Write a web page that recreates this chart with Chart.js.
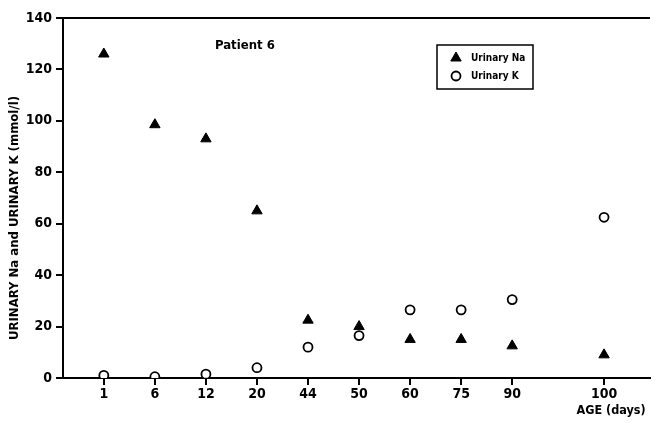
<!DOCTYPE html>
<html>
<head>
<meta charset="utf-8">
<script src="https://cdn.jsdelivr.net/npm/chart.js@4/dist/chart.umd.min.js"></script>
<style>
  html, body { margin: 0; padding: 0; background: #fff; }
  #wrap { width: 657px; height: 423px; }
</style>
</head>
<body>
<div id="wrap"><canvas id="grafico"></canvas></div>
<script>
// ages shown on the x axis (categorical, with a wider gap before 100)
const ages = ['1', '6', '12', '20', '44', '50', '60', '75', '90', '100'];
const slots = [0, 1, 2, 3, 4, 5, 6, 7, 8, 9.8];
const urinaryNa = [126, 98.5, 93, 65, 22.5, 20, 15, 15, 12.5, 9];
const urinaryK = [1, 0.5, 1.5, 4, 12, 16.5, 26.5, 26.5, 30.5, 62.5];
const yTicks = [0, 20, 40, 60, 80, 100, 120, 140];

const fonte = "'DejaVu Sans Condensed', 'Liberation Sans Narrow', sans-serif";

const naPontos = slots.map((s, i) => ({ x: s, y: urinaryNa[i] }));
const kPontos = slots.map((s, i) => ({ x: s, y: urinaryK[i] }));

// linha de cima, legenda, titulos e "Patient 6"
const extras = {
    id: 'extras',
    afterDraw(chart) {
        const ctx = chart.ctx;
        const area = chart.chartArea;
        const sx = chart.scales.x;
        ctx.save();
        ctx.strokeStyle = '#000';
        ctx.lineWidth = 2;
        ctx.beginPath();
        ctx.moveTo(area.left - 7, area.top);
        ctx.lineTo(area.right, area.top);
        ctx.stroke();

        ctx.fillStyle = '#000';
        ctx.font = 'bold 13px ' + fonte;
        ctx.textBaseline = 'middle';
        ctx.textAlign = 'left';
        ctx.fillText('Patient 6', 215, 46);

        // x title under last tick
        ctx.textAlign = 'center';
        ctx.font = 'bold 12.5px ' + fonte;
        ctx.fillText('AGE (days)', sx.getPixelForValue(slots[slots.length - 1]) + 7, 411);

        // y title
        ctx.save();
        ctx.translate(15, 218);
        ctx.rotate(-Math.PI / 2);
        ctx.font = 'bold 13px ' + fonte;
        ctx.fillText('URINARY Na and URINARY K (mmol/l)', 0, 0);
        ctx.restore();

        // legenda
        ctx.lineWidth = 1.5;
        ctx.strokeRect(437, 45, 96, 44);
        const ds = chart.data.datasets;
        ctx.font = 'bold 10px ' + fonte;
        ctx.textAlign = 'left';
        [58, 76].forEach((yy, i) => {
            ctx.fillStyle = ds[i].backgroundColor;
            ctx.strokeStyle = '#000';
            ctx.lineWidth = ds[i].borderWidth;
            Chart.helpers.drawPoint(ctx, {
                pointStyle: ds[i].pointStyle,
                radius: ds[i].pointRadius,
                borderWidth: ds[i].borderWidth,
                rotation: 0
            }, 456, yy);
            ctx.fillStyle = '#000';
            ctx.fillText(ds[i].label, 471, yy);
        });
        ctx.restore();
    }
};

new Chart(document.getElementById('grafico').getContext('2d'), {
    type: 'scatter',
    data: {
        datasets: [
            {
                label: 'Urinary Na',
                data: naPontos,
                pointStyle: 'triangle',
                pointRadius: 6,
                backgroundColor: '#000',
                borderColor: '#000',
                borderWidth: 1
            },
            {
                label: 'Urinary K',
                data: kPontos,
                pointStyle: 'circle',
                pointRadius: 4.5,
                backgroundColor: '#fff',
                borderColor: '#000',
                borderWidth: 1.8
            }
        ]
    },
    options: {
        responsive: true,
        maintainAspectRatio: false,
        animation: false,
        layout: { padding: { top: 18, right: 0, left: 0, bottom: 0 } },
        plugins: {
            legend: { display: false },
            tooltip: { enabled: false }
        },
        scales: {
            x: {
                type: 'linear',
                min: -0.8,
                max: 10.7,
                afterBuildTicks: (scale) => { scale.ticks = slots.map(v => ({ value: v })); },
                afterFit: (scale) => { scale.height = 45; },
                border: { display: true, color: '#000', width: 2 },
                grid: { drawOnChartArea: false, drawTicks: true, tickLength: 7, color: '#000', lineWidth: 2 },
                ticks: {
                    color: '#000',
                    font: { family: fonte, size: 14, weight: 'bold' },
                    padding: 1,
                    maxRotation: 0,
                    autoSkip: false,
                    callback: (v, i) => ages[i]
                }
            },
            y: {
                min: 0,
                max: 140,
                afterBuildTicks: (scale) => { scale.ticks = yTicks.map(v => ({ value: v })); },
                afterFit: (scale) => { scale.width = 63; },
                border: { display: true, color: '#000', width: 2 },
                grid: { drawOnChartArea: false, drawTicks: true, tickLength: 7, color: '#000', lineWidth: 2 },
                ticks: {
                    color: '#000',
                    font: { family: fonte, size: 14, weight: 'bold' },
                    padding: 4
                }
            }
        }
    },
    plugins: [extras]
});
</script>
</body>
</html>
